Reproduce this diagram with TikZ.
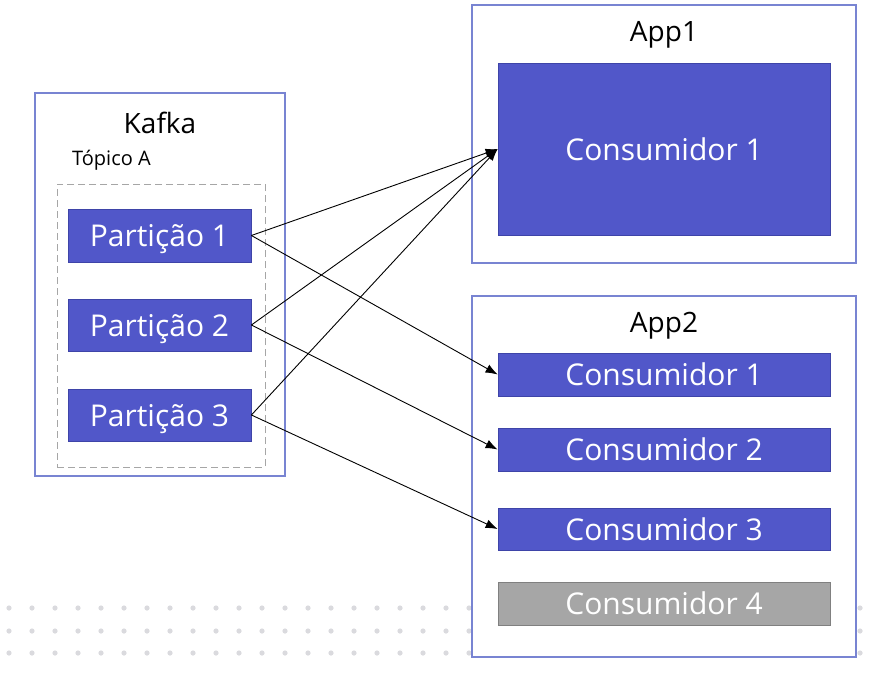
\documentclass[tikz,border=0pt]{standalone}
\usepackage{fontspec}
\setmainfont{Open Sans}
\usetikzlibrary{arrows.meta,positioning}

\definecolor{partblue}{RGB}{81,87,201}
\definecolor{edgeblue}{RGB}{62,68,168}
\definecolor{frameblue}{RGB}{120,132,210}
\definecolor{idlegray}{RGB}{166,166,166}
\definecolor{dotgray}{RGB}{218,218,222}

\begin{document}
\begin{tikzpicture}[x=1pt,y=-1pt,
    frame/.style={draw=frameblue, line width=1.2pt, fill=white, inner sep=0pt},
    part/.style={draw=edgeblue, line width=0.8pt, fill=partblue, text=white,
                 font=\fontsize{30}{36}\selectfont, inner sep=0pt,
                 text height=22pt, text depth=0pt,
                 minimum width=183pt, minimum height=53pt},
    cons/.style={part, minimum width=332pt, minimum height=43pt},
    label/.style={font=\fontsize{28}{34}\selectfont, inner sep=0pt},
    link/.style={line width=0.9pt, -{Latex[length=12pt,width=9pt]}}
  ]
     \useasboundingbox (0,0) rectangle (878,677);
     \fill[white] (0,0) rectangle (878,677);

     % dotted band at the bottom
     \foreach \row in {608,631,653}
       \foreach \col in {0,...,37}
         \fill[dotgray] ({9+23*\col},\row) circle (2.6pt);

     % the Kafka side
     \node[frame, minimum width=250pt, minimum height=383pt] (kafka) at (160,284.5) {};
     \node[label] (kafkatext) at (160,123) {Kafka};
     \node[label, font=\fontsize{20}{24}\selectfont, anchor=west] (topic) at (72,160) {Tópico A};
     \node[draw=gray!70, dash pattern=on 7pt off 4pt, line width=0.9pt, minimum width=208pt,
           minimum height=283pt, inner sep=0pt] (topicbox) at (161,325.5) {};
     \node[part] (p1) at (159.5,235.5) {Partição 1};
     \node[part, minimum height=52pt] (p2) at (159.5,325) {Partição 2};
     \node[part, minimum height=52pt] (p3) at (159.5,415) {Partição 3};

     % App1, one consumer
     \node[frame, minimum width=384pt, minimum height=258pt] (app1) at (664,134) {};
     \node[label] (app1text) at (664,35) {App1};
     \node[part, minimum width=332pt, minimum height=172pt] (big) at (664,149) {Consumidor 1};

     % App2, four consumers
     \node[frame, minimum width=384pt, minimum height=361pt] (app2) at (664,476.5) {};
     \node[label] (app2text) at (664,326) {App2};
     \node[cons] (c1) at (664,374.5) {Consumidor 1};
     \node[cons] (c2) at (664,449.5) {Consumidor 2};
     \node[cons, minimum height=42pt] (c3) at (664,529) {Consumidor 3};
     \node[cons, draw=gray, fill=idlegray] (c4) at (664,603.5) {Consumidor 4};

     % partitions to consumers
     \draw[link] (p1.east) -- (big.west);
     \draw[link] (p2.east) -- (big.west);
     \draw[link] (p3.east) -- (big.west);
     \draw[link] (p1.east) -- (c1.west);
     \draw[link] (p2.east) -- (c2.west);
     \draw[link] (p3.east) -- (c3.west);
\end{tikzpicture}
\end{document}
